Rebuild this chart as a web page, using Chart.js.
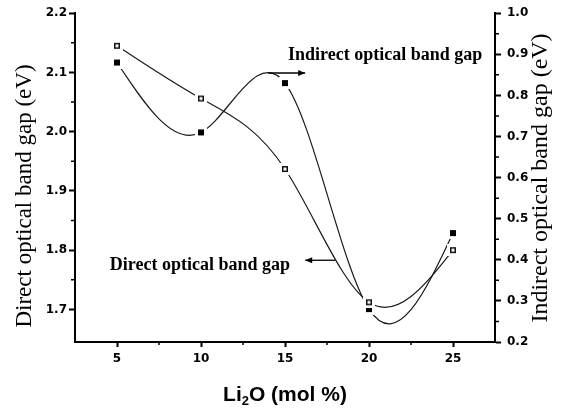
<!DOCTYPE html>
<html>
<head>
<meta charset="utf-8">
<script src="https://cdn.jsdelivr.net/npm/chart.js@4/dist/chart.umd.min.js"></script>
<style>
  html, body { margin: 0; padding: 0; background: #fff; }
  #wrap { width: 563px; height: 410px; }
</style>
</head>
<body>
<div id="wrap"><canvas id="c" width="563" height="410"></canvas></div>
<script>
// Li2O content of the glasses (mol %)
const li2o = [5, 10, 15, 20, 25];
// Direct optical band gap (eV) - left axis, open squares
const directGap = [2.145, 2.056, 1.937, 1.712, 1.80];
// Indirect optical band gap (eV) - right axis, filled squares
const indirectGap = [0.88, 0.71, 0.83, 0.28, 0.465];

// Tick values
const xTicks = [5, 10, 15, 20, 25];
const xMinorTicks = [7.5, 12.5, 17.5, 22.5];
const directTicks = [1.7, 1.8, 1.9, 2.0, 2.1, 2.2];
const directMinorTicks = [1.75, 1.85, 1.95, 2.05, 2.15];
const indirectTicks = [0.2, 0.3, 0.4, 0.5, 0.6, 0.7, 0.8, 0.9, 1.0];
const indirectMinorTicks = [0.25, 0.35, 0.45, 0.55, 0.65, 0.75, 0.85, 0.95];

const tickFont = { family: 'DejaVu Sans', size: 12, weight: 'bold' };
const serif = '"Liberation Serif", "Times New Roman", serif';

// Square markers with a small white margin, so the curves stop short of them
function markerImage(filled) {
  const s = 12, q = 6;
  const c = document.createElement('canvas');
  c.width = s; c.height = s;
  const g = c.getContext('2d');
  g.fillStyle = '#fff';
  g.fillRect(0, 0, s, s);
  const o = (s - q) / 2;
  if (filled) {
    g.fillStyle = '#000';
    g.fillRect(o, o, q, q);
  } else {
    g.strokeStyle = '#111';
    g.lineWidth = 1.5;
    g.strokeRect(o + 0.75, o + 0.75, q - 1.5, q - 1.5);
  }
  return c;
}

// Slopes of the natural cubic spline through (xs, ys)
function naturalSplineSlopes(xs, ys) {
  const n = xs.length;
  const h = [];
  for (let i = 0; i < n - 1; i++) h.push(xs[i + 1] - xs[i]);
  const a = new Array(n).fill(0), b = new Array(n).fill(1), c = new Array(n).fill(0), d = new Array(n).fill(0);
  for (let i = 1; i < n - 1; i++) {
    a[i] = h[i - 1];
    b[i] = 2 * (h[i - 1] + h[i]);
    c[i] = h[i];
    d[i] = 6 * ((ys[i + 1] - ys[i]) / h[i] - (ys[i] - ys[i - 1]) / h[i - 1]);
  }
  for (let i = 1; i < n; i++) {
    const w = a[i] / b[i - 1];
    b[i] -= w * c[i - 1];
    d[i] -= w * d[i - 1];
  }
  const M = new Array(n).fill(0);
  M[n - 1] = d[n - 1] / b[n - 1];
  for (let i = n - 2; i >= 0; i--) M[i] = (d[i] - c[i] * M[i + 1]) / b[i];
  const m = [];
  for (let i = 0; i < n - 1; i++) m.push((ys[i + 1] - ys[i]) / h[i] - h[i] * (2 * M[i] + M[i + 1]) / 6);
  m.push((ys[n - 1] - ys[n - 2]) / h[n - 2] + h[n - 2] * (M[n - 2] + 2 * M[n - 1]) / 6);
  return m;
}

// Replace the line's bezier control points with those of a natural cubic spline
const splinePlugin = {
  id: 'naturalSpline',
  beforeDatasetDraw(chart, args) {
    const ds = chart.data.datasets[args.index];
    const meta = args.meta;
    if (!ds.naturalSpline || !meta.dataset) return;
    const xs = ds.data.map(p => p.x), ys = ds.data.map(p => p.y);
    const m = naturalSplineSlopes(xs, ys);
    const xs_ = chart.scales[meta.xAxisID], ys_ = chart.scales[meta.yAxisID];
    meta.data.forEach((pt, i) => {
      if (i > 0) {
        const dx = (xs[i] - xs[i - 1]) / 3;
        pt.cp1x = xs_.getPixelForValue(xs[i] - dx);
        pt.cp1y = ys_.getPixelForValue(ys[i] - dx * m[i]);
      }
      if (i < xs.length - 1) {
        const dx = (xs[i + 1] - xs[i]) / 3;
        pt.cp2x = xs_.getPixelForValue(xs[i] + dx);
        pt.cp2y = ys_.getPixelForValue(ys[i] + dx * m[i]);
      }
    });
    meta.dataset._pointsUpdated = true;
    meta.dataset._path = undefined;
  }
};

// Minor ticks, axis titles and the two labelled arrows
const decorPlugin = {
  id: 'decor',
  afterDraw(chart) {
    const ctx = chart.ctx;
    const { x, yL, yR } = chart.scales;
    const area = chart.chartArea;
    ctx.save();
    ctx.strokeStyle = '#000';
    ctx.lineWidth = 1.5;
    ctx.beginPath();
    xMinorTicks.forEach(v => { const px = x.getPixelForValue(v); ctx.moveTo(px, area.bottom); ctx.lineTo(px, area.bottom + 3); });
    directMinorTicks.forEach(v => { const py = yL.getPixelForValue(v); ctx.moveTo(area.left, py); ctx.lineTo(area.left - 4, py); });
    indirectMinorTicks.forEach(v => { const py = yR.getPixelForValue(v); ctx.moveTo(area.right, py); ctx.lineTo(area.right + 4, py); });
    ctx.stroke();

    ctx.fillStyle = '#000';
    ctx.textBaseline = 'middle';
    ctx.textAlign = 'center';
    // left axis title
    ctx.save();
    ctx.translate(25, 196);
    ctx.rotate(-Math.PI / 2);
    ctx.font = '23px ' + serif;
    ctx.fillText('Direct optical band gap (eV)', 0, 0);
    ctx.restore();
    // right axis title
    ctx.save();
    ctx.translate(541, 178);
    ctx.rotate(-Math.PI / 2);
    ctx.font = '24px ' + serif;
    ctx.fillText('Indirect optical band gap (eV)', 0, 0);
    ctx.restore();

    // x axis title with subscript
    const big = 'bold 21px "Liberation Sans", Arial, sans-serif';
    const small = 'bold 13px "Liberation Sans", Arial, sans-serif';
    ctx.textAlign = 'left';
    ctx.textBaseline = 'alphabetic';
    ctx.font = big;
    const w1 = ctx.measureText('Li').width;
    const w3 = ctx.measureText('O (mol %)').width;
    ctx.font = small;
    const w2 = ctx.measureText('2').width;
    const cx = (area.left + area.right) / 2;
    let tx = cx - (w1 + w2 + w3) / 2;
    const base = 401;
    ctx.font = big; ctx.fillText('Li', tx, base); tx += w1;
    ctx.font = small; ctx.fillText('2', tx, base + 4); tx += w2;
    ctx.font = big; ctx.fillText('O (mol %)', tx, base);

    // labelled arrows
    function arrow(x0, x1, py) {
      ctx.beginPath();
      ctx.lineWidth = 1.3;
      ctx.moveTo(x0, py); ctx.lineTo(x1, py);
      ctx.stroke();
      const dir = Math.sign(x1 - x0);
      ctx.beginPath();
      ctx.moveTo(x1, py);
      ctx.lineTo(x1 - dir * 7, py - 3);
      ctx.lineTo(x1 - dir * 7, py + 3);
      ctx.closePath();
      ctx.fill();
    }
    ctx.font = 'bold 18px ' + serif;
    ctx.textAlign = 'left';
    ctx.fillText('Indirect optical band gap', x.getPixelForValue(15.18), yR.getPixelForValue(0.886));
    arrow(x.getPixelForValue(14.0), x.getPixelForValue(16.2), yR.getPixelForValue(0.8545));
    ctx.textAlign = 'right';
    ctx.fillText('Direct optical band gap', x.getPixelForValue(15.3), yL.getPixelForValue(1.766));
    arrow(x.getPixelForValue(18.0), x.getPixelForValue(16.2), yL.getPixelForValue(1.783));
    ctx.restore();
  }
};

const directPts = li2o.map((v, i) => ({ x: v, y: directGap[i] }));
const indirectPts = li2o.map((v, i) => ({ x: v, y: indirectGap[i] }));

const curveStyle = { borderColor: '#1a1a1a', borderWidth: 1.2, pointRadius: 0, showLine: true, tension: 0.4, fill: false, naturalSpline: true, order: 2 };
const markerStyle = { showLine: false, pointRadius: 5, order: 1 };

function axisCommon(ticksList, fmt) {
  return {
    type: 'linear',
    afterBuildTicks: s => { s.ticks = ticksList.map(v => ({ value: v })); },
    ticks: { font: tickFont, color: '#000', callback: fmt, autoSkip: false, maxRotation: 0 },
    grid: { drawOnChartArea: false, drawTicks: true, tickLength: 6, tickWidth: 2, tickColor: '#000' },
    border: { display: true, color: '#000', width: 2 }
  };
}

const xAxis = axisCommon(xTicks, v => String(v));
xAxis.min = 2.5; xAxis.max = 27.5; xAxis.position = 'bottom';
xAxis.ticks.padding = 5;
xAxis.grid.tickLength = 5;
xAxis.afterFit = s => { s.height = 68; };

const yLAxis = axisCommon(directTicks, v => v.toFixed(1));
yLAxis.min = 1.645; yLAxis.max = 2.2; yLAxis.position = 'left';
yLAxis.ticks.padding = 2;
yLAxis.afterFit = s => { s.width = 75; };

const yRAxis = axisCommon(indirectTicks, v => v.toFixed(1));
yRAxis.min = 0.2; yRAxis.max = 1.0; yRAxis.position = 'right';
yRAxis.ticks.padding = 6;
yRAxis.afterFit = s => { s.width = 68; };

new Chart(document.getElementById('c'), {
  type: 'scatter',
  data: {
    datasets: [
      Object.assign({ label: 'Direct optical band gap', data: directPts, yAxisID: 'yL' }, markerStyle,
        { pointStyle: markerImage(false), order: 0 }),
      Object.assign({ label: 'Indirect optical band gap', data: indirectPts, yAxisID: 'yR' }, markerStyle,
        { pointStyle: markerImage(true) }),
      Object.assign({ label: 'Direct curve', data: directPts, yAxisID: 'yL' }, curveStyle),
      Object.assign({ label: 'Indirect curve', data: indirectPts, yAxisID: 'yR' }, curveStyle)
    ]
  },
  options: {
    responsive: false,
    animation: false,
    devicePixelRatio: 1,
    layout: { padding: { top: 12, left: 0, right: 0, bottom: 0 } },
    plugins: { legend: { display: false }, tooltip: { enabled: false } },
    scales: { x: xAxis, yL: yLAxis, yR: yRAxis }
  },
  plugins: [splinePlugin, decorPlugin]
});
</script>
</body>
</html>
